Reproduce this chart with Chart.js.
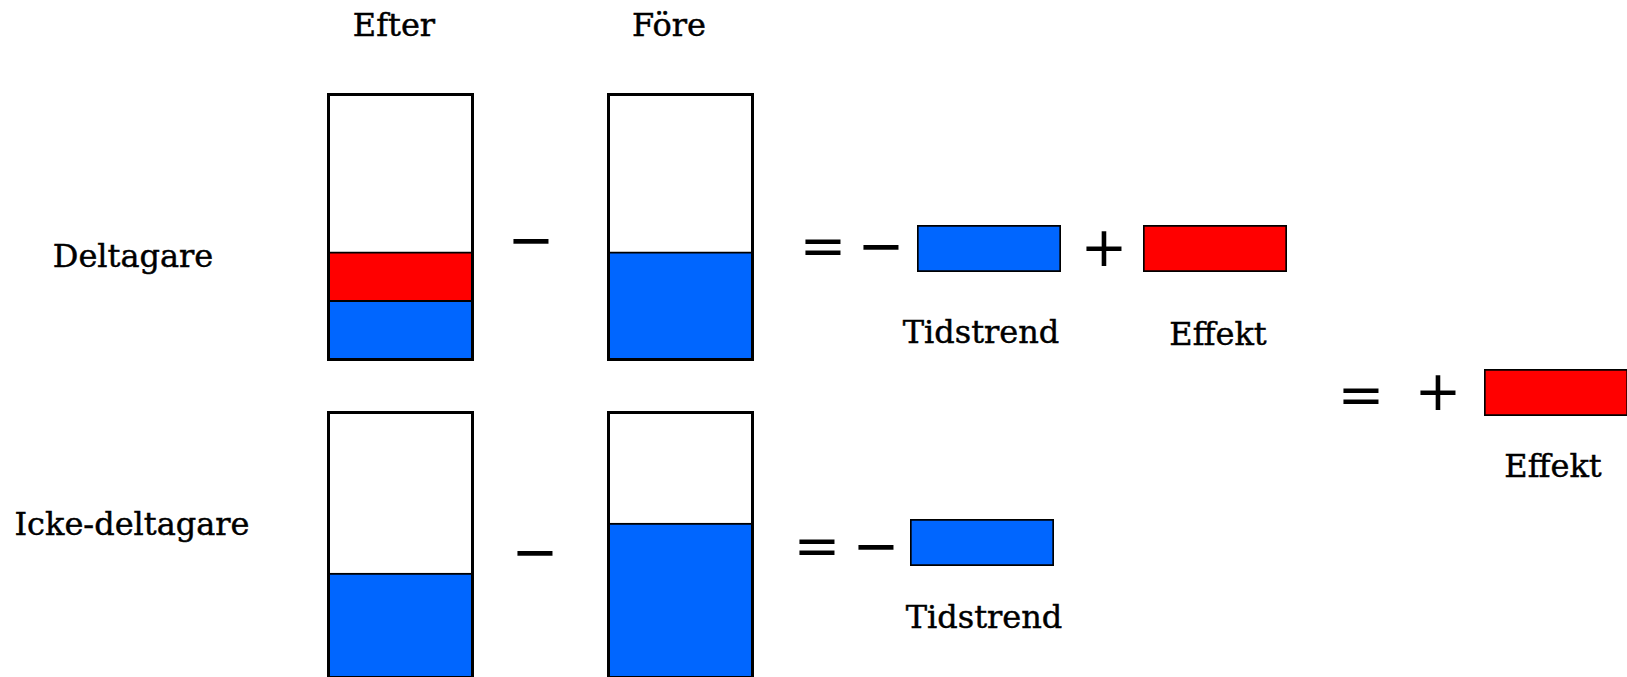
<!DOCTYPE html>
<html lang="sv">
<head>
<meta charset="utf-8">
<title>Effekt = förändring deltagare − förändring icke-deltagare</title>
<script src="https://cdn.jsdelivr.net/npm/chart.js@4/dist/chart.umd.min.js"></script>
<style>
  html, body { margin: 0; padding: 0; background: #fff; }
  body { position: relative; width: 1627px; height: 677px; overflow: hidden; }
  .box { position: absolute; border: 3px solid #000; width: 141px; height: 262px; }
  .box canvas, .swatch canvas { display: block; }
  .swatch { position: absolute; width: 144px; height: 47px; }
  .lbl {
    position: absolute; transform: translateX(-50%); white-space: nowrap;
    font-family: 'DejaVu Serif', serif; font-size: 32px; line-height: 32px; color: #000;
    -webkit-text-stroke: 0.45px #000;
  }
  .sign {
    position: absolute; transform: translateX(-50%); white-space: nowrap;
    font-family: 'DejaVu Sans', sans-serif; font-size: 56px; line-height: 56px; color: #000;
  }
</style>
</head>
<body>

<div id="stage"></div>

<script>
// ─── Data ────────────────────────────────────────────────────
// Nivåer i staplarna, i procent av stapelns höjd
const boxNames   = ['Deltagare efter', 'Deltagare före', 'Icke-deltagare efter', 'Icke-deltagare före'];
const blueLevels = [22, 40.5, 39.3, 58.4];
const redLevels  = [18.5, 0, 0, 0];
const levelMax   = 100;

// Storheter i ekvationerna
const trendValues  = [18.5, 18.5];   // Tidstrend, rad 1 och rad 2
const effectValues = [18.5, 18.5];   // Effekt, rad 1 och slutresultat

const rowLabels    = ['Deltagare', 'Icke-deltagare'];
const columnLabels = ['Efter', 'Före'];

const BLUE = '#0066ff';
const RED  = '#ff0000';

// ─── Layout ─────────────────────────────────────────────────
const stage = document.getElementById('stage');

function addText(cls, text, cx, top) {
  const el = document.createElement('div');
  el.className = cls;
  el.textContent = text;
  el.style.left = cx + 'px';
  el.style.top = top + 'px';
  stage.appendChild(el);
}

// baseline -> top for 32px DejaVu Serif
function label(text, cx, baseline) { addText('lbl', text, cx, baseline - 28); }
// visual centre -> top for 56px DejaVu Sans
function sign(text, cx, cy) { addText('sign', text, cx, cy - 30); }

function addCanvas(cls, left, top, w, h) {
  const wrap = document.createElement('div');
  wrap.className = cls;
  wrap.style.left = left + 'px';
  wrap.style.top = top + 'px';
  const c = document.createElement('canvas');
  c.width = w; c.height = h;
  wrap.appendChild(c);
  stage.appendChild(wrap);
  return c;
}

// ─── Charts ─────────────────────────────────────────────────
const baseOptions = {
  responsive: false,
  animation: false,
  events: [],
  layout: { padding: 0 },
  plugins: { legend: { display: false }, tooltip: { enabled: false } },
};

function makeBox(canvas, i) {
  const datasets = [
    { label: 'Nivå', data: [blueLevels[i]], backgroundColor: BLUE,
      borderColor: '#000', borderWidth: { top: 2 }, borderSkipped: false },
  ];
  if (redLevels[i] > 0) {
    datasets.push({ label: 'Effekt', data: [redLevels[i]], backgroundColor: RED,
      borderColor: '#000', borderWidth: { top: 2 }, borderSkipped: false });
  }
  new Chart(canvas, {
    type: 'bar',
    data: { labels: [boxNames[i]], datasets },
    options: {
      ...baseOptions,
      datasets: { bar: { barPercentage: 1, categoryPercentage: 1 } },
      scales: {
        x: { display: false, stacked: true },
        y: { display: false, stacked: true, min: 0, max: levelMax },
      },
    },
  });
}

const swatchMax = Math.max(...trendValues, ...effectValues);

function makeSwatch(canvas, name, value, color) {
  new Chart(canvas, {
    type: 'bar',
    data: { labels: [name], datasets: [{
      label: name, data: [value], backgroundColor: color,
      borderColor: '#000', borderWidth: 2, borderSkipped: false,
    }] },
    options: {
      ...baseOptions,
      indexAxis: 'y',
      datasets: { bar: { barPercentage: 1, categoryPercentage: 1 } },
      scales: {
        x: { display: false, min: 0, max: swatchMax },
        y: { display: false },
      },
    },
  });
}

// ─── Build ──────────────────────────────────────────────────
label(columnLabels[0], 394, 37);
label(columnLabels[1], 669, 37);
label(rowLabels[0], 133, 268);
label(rowLabels[1], 132, 536);

// staplar: efter / före för båda grupperna
makeBox(addCanvas('box', 327, 93, 141, 262), 0);
makeBox(addCanvas('box', 607, 93, 141, 262), 1);
makeBox(addCanvas('box', 327, 411, 141, 262), 2);
makeBox(addCanvas('box', 607, 411, 141, 262), 3);

sign('\u2212', 531, 242);
sign('\u2212', 535, 554);

// rad 1: = − Tidstrend + Effekt
sign('=', 823, 248);
sign('\u2212', 881, 248);
makeSwatch(addCanvas('swatch', 917, 225, 144, 47), 'Tidstrend', trendValues[0], BLUE);
label('Tidstrend', 981, 344);
sign('+', 1104, 249);
makeSwatch(addCanvas('swatch', 1143, 225, 144, 47), 'Effekt', effectValues[0], RED);
label('Effekt', 1218, 346);

// rad 2: = − Tidstrend
sign('=', 817, 548);
sign('\u2212', 876, 548);
makeSwatch(addCanvas('swatch', 910, 519, 144, 47), 'Tidstrend', trendValues[1], BLUE);
label('Tidstrend', 984, 629);

// resultat: = + Effekt
sign('=', 1361, 397);
sign('+', 1438, 393);
makeSwatch(addCanvas('swatch', 1484, 369, 144, 47), 'Effekt', effectValues[1], RED);
label('Effekt', 1553, 478);
</script>
</body>
</html>
